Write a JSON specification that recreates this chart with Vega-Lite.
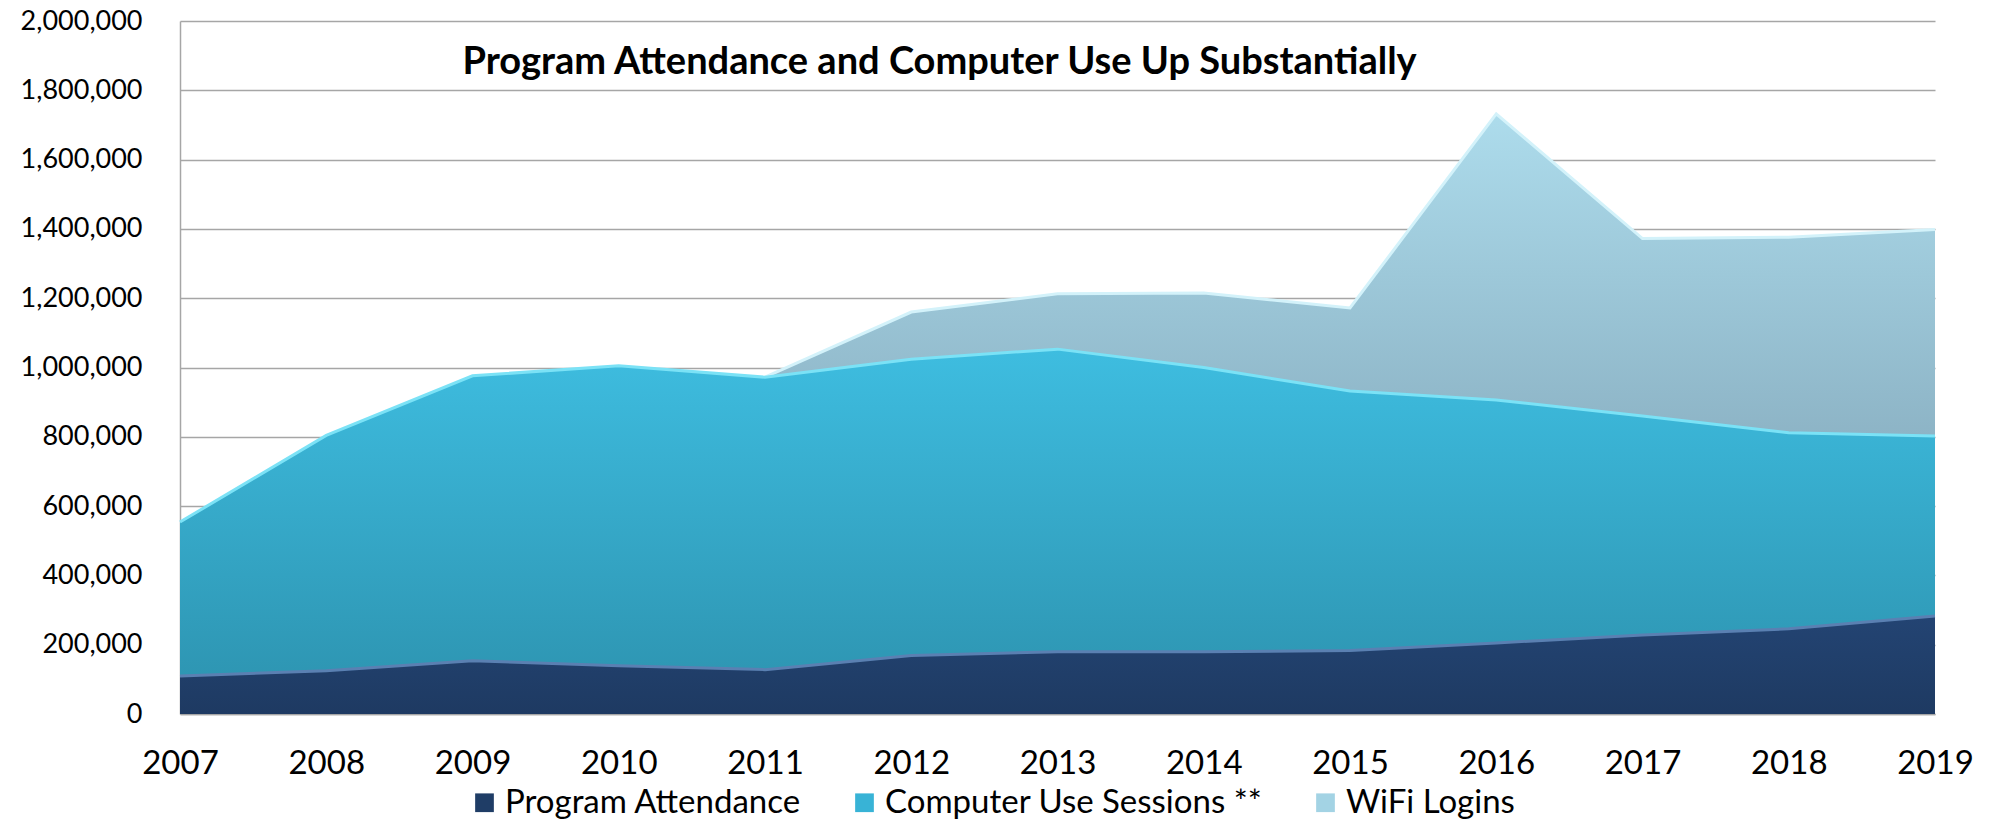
{
  "$schema": "https://vega.github.io/schema/vega-lite/v6.json",
  "autosize": {"type": "none"},
  "padding": {"left": 180, "top": 21, "right": 55, "bottom": 105},
  "width": 1755,
  "height": 693,
  "background": "white",
  "config": {"font": "Lato", "view": {"stroke": null}},
  "data": {"values": [
    {"year": 2007, "series": "Program Attendance", "k": 1, "value": 110000},
    {"year": 2008, "series": "Program Attendance", "k": 1, "value": 125000},
    {"year": 2009, "series": "Program Attendance", "k": 1, "value": 154000},
    {"year": 2010, "series": "Program Attendance", "k": 1, "value": 139000},
    {"year": 2011, "series": "Program Attendance", "k": 1, "value": 128000},
    {"year": 2012, "series": "Program Attendance", "k": 1, "value": 169000},
    {"year": 2013, "series": "Program Attendance", "k": 1, "value": 180000},
    {"year": 2014, "series": "Program Attendance", "k": 1, "value": 180000},
    {"year": 2015, "series": "Program Attendance", "k": 1, "value": 183000},
    {"year": 2016, "series": "Program Attendance", "k": 1, "value": 205000},
    {"year": 2017, "series": "Program Attendance", "k": 1, "value": 228000},
    {"year": 2018, "series": "Program Attendance", "k": 1, "value": 246000},
    {"year": 2019, "series": "Program Attendance", "k": 1, "value": 283000},
    {"year": 2007, "series": "Computer Use Sessions **", "k": 2, "value": 444000},
    {"year": 2008, "series": "Computer Use Sessions **", "k": 2, "value": 679000},
    {"year": 2009, "series": "Computer Use Sessions **", "k": 2, "value": 822000},
    {"year": 2010, "series": "Computer Use Sessions **", "k": 2, "value": 866000},
    {"year": 2011, "series": "Computer Use Sessions **", "k": 2, "value": 844000},
    {"year": 2012, "series": "Computer Use Sessions **", "k": 2, "value": 855000},
    {"year": 2013, "series": "Computer Use Sessions **", "k": 2, "value": 873000},
    {"year": 2014, "series": "Computer Use Sessions **", "k": 2, "value": 820000},
    {"year": 2015, "series": "Computer Use Sessions **", "k": 2, "value": 749000},
    {"year": 2016, "series": "Computer Use Sessions **", "k": 2, "value": 701000},
    {"year": 2017, "series": "Computer Use Sessions **", "k": 2, "value": 632000},
    {"year": 2018, "series": "Computer Use Sessions **", "k": 2, "value": 566000},
    {"year": 2019, "series": "Computer Use Sessions **", "k": 2, "value": 519000},
    {"year": 2011, "series": "WiFi Logins", "k": 3, "value": 0},
    {"year": 2012, "series": "WiFi Logins", "k": 3, "value": 136000},
    {"year": 2013, "series": "WiFi Logins", "k": 3, "value": 160000},
    {"year": 2014, "series": "WiFi Logins", "k": 3, "value": 215000},
    {"year": 2015, "series": "WiFi Logins", "k": 3, "value": 240000},
    {"year": 2016, "series": "WiFi Logins", "k": 3, "value": 826000},
    {"year": 2017, "series": "WiFi Logins", "k": 3, "value": 512000},
    {"year": 2018, "series": "WiFi Logins", "k": 3, "value": 564000},
    {"year": 2019, "series": "WiFi Logins", "k": 3, "value": 596000}
  ]},
  "encoding": {
    "x": {
      "field": "year", "type": "ordinal",
      "scale": {"type": "point", "padding": 0},
      "axis": {
        "title": null, "labelAngle": 0, "labelFontSize": 33, "labelColor": "#000000",
        "labelPadding": 33, "ticks": false, "domainColor": "#a6a6a6", "domainWidth": 1.5,
        "grid": false, "labelFont": "Lato"
      }
    }
  },
  "layer": [
    {
      "transform": [
        {"stack": "value", "groupby": ["year"], "sort": [{"field": "k", "order": "ascending"}], "as": ["y0", "y1"]},
        {"filter": {"field": "series", "equal": "WiFi Logins"}}
      ],
      "mark": {
        "type": "area", "opacity": 1,
        "fill": {"gradient": "linear", "x1": 0, "y1": 0, "x2": 0, "y2": 1,
          "stops": [{"offset": 0, "color": "#addcec"}, {"offset": 1, "color": "#8db4c6"}]},
        "line": {"color": "#d3f2fa", "strokeWidth": 3}
      },
      "encoding": {
        "y": {
          "field": "y1", "type": "quantitative",
          "scale": {"domain": [0, 2000000], "nice": false},
          "axis": {
            "title": null, "tickCount": 10, "format": ",d", "labelFontSize": 27,
            "labelColor": "#000000", "labelPadding": 38, "ticks": false,
            "domainColor": "#a6a6a6", "domainWidth": 1.5,
            "gridColor": "#a6a6a6", "gridWidth": 1.5, "labelFont": "Lato"
          }
        },
        "y2": {"field": "y0"}
      }
    },
    {
      "transform": [
        {"stack": "value", "groupby": ["year"], "sort": [{"field": "k", "order": "ascending"}], "as": ["y0", "y1"]},
        {"filter": {"field": "series", "equal": "Computer Use Sessions **"}}
      ],
      "mark": {
        "type": "area", "opacity": 1,
        "fill": {"gradient": "linear", "x1": 0, "y1": 0, "x2": 0, "y2": 1,
          "stops": [{"offset": 0, "color": "#3ebde0"}, {"offset": 1, "color": "#2e96b3"}]},
        "line": {"color": "#7be2f6", "strokeWidth": 3}
      },
      "encoding": {
        "y": {"field": "y1", "type": "quantitative"},
        "y2": {"field": "y0"}
      }
    },
    {
      "transform": [
        {"stack": "value", "groupby": ["year"], "sort": [{"field": "k", "order": "ascending"}], "as": ["y0", "y1"]},
        {"filter": {"field": "series", "equal": "Program Attendance"}}
      ],
      "mark": {
        "type": "area", "opacity": 1,
        "fill": {"gradient": "linear", "x1": 0, "y1": 0, "x2": 0, "y2": 1,
          "stops": [{"offset": 0, "color": "#234473"}, {"offset": 1, "color": "#1e3a62"}]},
        "line": {"color": "#5a80b2", "strokeWidth": 3}
      },
      "encoding": {
        "y": {"field": "y1", "type": "quantitative"},
        "y2": {"field": "y0"}
      }
    },
    {
      "mark": {"type": "square", "opacity": 0},
      "encoding": {
        "y": {"field": "value", "type": "quantitative"},
        "color": {
          "field": "series", "type": "nominal",
          "scale": {
            "domain": ["Program Attendance", "Computer Use Sessions **", "WiFi Logins"],
            "range": ["#1f3d66", "#38b3d6", "#a3d3e4"]
          },
          "legend": {
            "title": null, "orient": "none", "legendX": 288, "legendY": 765,
            "direction": "horizontal", "symbolType": "square", "symbolSize": 350,
            "symbolOpacity": 1, "symbolStrokeWidth": 0, "labelFontSize": 33,
            "labelColor": "#000000", "labelFont": "Lato", "columnPadding": 46,
            "labelOffset": 4, "labelLimit": 600
          }
        }
      }
    },
    {
      "data": {"values": [{"label": "Program Attendance and Computer Use Up Substantially"}]},
      "mark": {
        "type": "text", "align": "left", "baseline": "alphabetic", "dx": -10,
        "font": "Lato", "fontSize": 38, "fontWeight": "bold", "color": "#000000"
      },
      "encoding": {
        "x": {"datum": 2009, "type": "ordinal"},
        "y": {"datum": 1847000, "type": "quantitative"},
        "text": {"field": "label"}
      }
    }
  ]
}
